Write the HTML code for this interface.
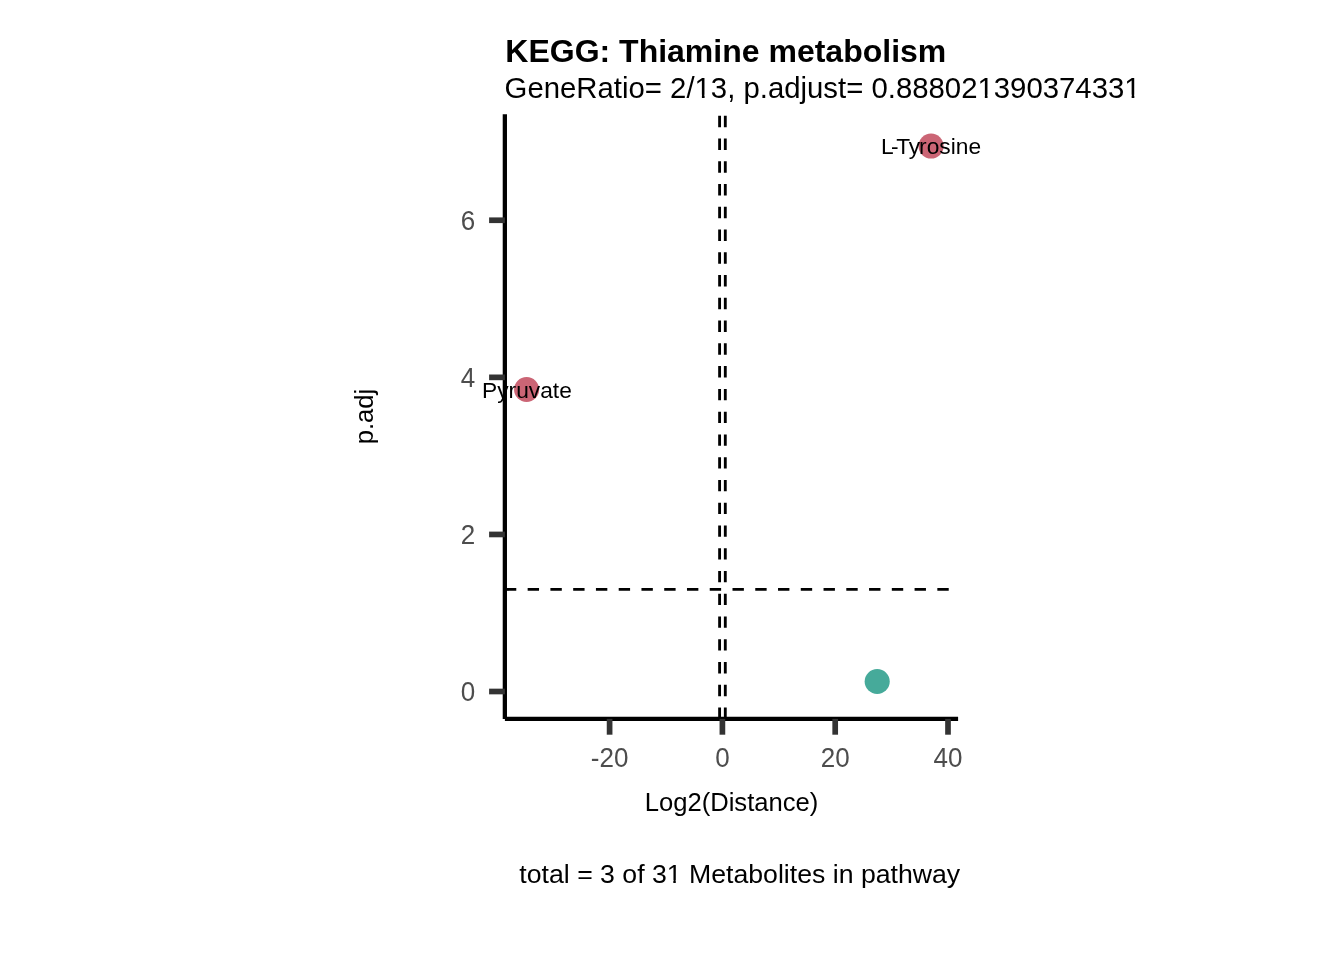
<!DOCTYPE html>
<html>
<head>
<meta charset="utf-8">
<style>
html,body{margin:0;padding:0;background:#fff;}
body{width:1344px;height:960px;overflow:hidden;}
svg{display:block;will-change:transform;}
text{font-family:"Liberation Sans",sans-serif;font-kerning:none;}
</style>
</head>
<body>
<svg width="1344" height="960" viewBox="0 0 1344 960">
<rect x="0" y="0" width="1344" height="960" fill="#fff"/>
<!-- panel contents -->
<g>
  <!-- threshold lines -->
  <line x1="504.9" y1="589.4" x2="958.1" y2="589.4" stroke="#000" stroke-width="2.845" stroke-dasharray="11.38 11.38"/>
  <line x1="719.6" y1="718.9" x2="719.6" y2="114.25" stroke="#000" stroke-width="2.845" stroke-dasharray="11.38 11.38"/>
  <line x1="725.3" y1="718.9" x2="725.3" y2="114.25" stroke="#000" stroke-width="2.845" stroke-dasharray="11.38 11.38"/>
  <!-- points -->
  <circle cx="931.05" cy="146.05" r="12.55" fill="#CB6575"/>
  <circle cx="526.6" cy="389.5" r="12.55" fill="#CB6575"/>
  <circle cx="877.2" cy="681.5" r="12.55" fill="#46AA9A"/>
  <!-- point labels -->
  <text x="880.95 891.05 896.13 908.63 919.11 926.69 939.35 950.73 955.79 968.44" y="154.2" font-size="22.76" fill="#000">L-Tyrosine</text>
  <text x="482.06" y="398.4" font-size="22.76" fill="#000">Pyruvate</text>
</g>
<!-- axes -->
<g>
  <line x1="504.85" y1="114.25" x2="504.85" y2="718.9" stroke="#000" stroke-width="4.27"/>
  <line x1="504.9" y1="718.9" x2="958.1" y2="718.9" stroke="#000" stroke-width="4.27"/>
  <g stroke="#333" stroke-width="5.69">
    <line x1="489.1" y1="220.25" x2="504.9" y2="220.25"/>
    <line x1="489.1" y1="377.35" x2="504.9" y2="377.35"/>
    <line x1="489.1" y1="534.45" x2="504.9" y2="534.45"/>
    <line x1="489.1" y1="691.5" x2="504.9" y2="691.5"/>
    <line x1="609.6" y1="718.9" x2="609.6" y2="734.7"/>
    <line x1="722.4" y1="718.9" x2="722.4" y2="734.7"/>
    <line x1="835.2" y1="718.9" x2="835.2" y2="734.7"/>
    <line x1="948.0" y1="718.9" x2="948.0" y2="734.7"/>
  </g>
  <g fill="#4D4D4D" font-size="26">
    <text transform="translate(475.2,229.55) scale(1,1.04)" text-anchor="end">6</text>
    <text transform="translate(475.2,386.65) scale(1,1.04)" text-anchor="end">4</text>
    <text transform="translate(475.2,543.75) scale(1,1.04)" text-anchor="end">2</text>
    <text transform="translate(475.2,700.80) scale(1,1.04)" text-anchor="end">0</text>
    <text transform="translate(609.6,766.70) scale(1,1.04)" text-anchor="middle">-20</text>
    <text transform="translate(722.4,766.70) scale(1,1.04)" text-anchor="middle">0</text>
    <text transform="translate(835.2,766.70) scale(1,1.04)" text-anchor="middle">20</text>
    <text transform="translate(948.0,766.70) scale(1,1.04)" text-anchor="middle">40</text>
  </g>
</g>
<!-- titles -->
<text x="505.3" y="62.2" font-size="32" font-weight="bold" fill="#000">KEGG: Thiamine metabolism</text>
<text x="504.6" y="98.2" font-size="29.33" fill="#000">GeneRatio= 2/13, p.adjust= 0.888021390374331</text>
<text x="731.5" y="811.4" font-size="25.6" text-anchor="middle" fill="#000">Log2(Distance)</text>
<text transform="translate(373.0,416.6) rotate(-90)" x="0" y="0" font-size="25.6" text-anchor="middle" fill="#000">p.adj</text>
<text x="960.2" y="883.3" font-size="26.67" text-anchor="end" fill="#000">total = 3 of 31 Metabolites in pathway</text>
<!-- remove base serif of "1" (target font has none) -->
<rect x="695.71" y="94.7" width="6.18" height="4.25" fill="#fff"/>
<rect x="704.58" y="94.7" width="5.95" height="4.25" fill="#fff"/>
<rect x="978.65" y="94.7" width="6.18" height="4.25" fill="#fff"/>
<rect x="987.52" y="94.7" width="5.95" height="4.25" fill="#fff"/>
<rect x="1125.46" y="94.7" width="6.18" height="4.25" fill="#fff"/>
<rect x="1134.33" y="94.7" width="5.95" height="4.25" fill="#fff"/>
<rect x="667.61" y="880.0" width="5.70" height="4.05" fill="#fff"/>
<rect x="675.77" y="880.0" width="5.49" height="4.05" fill="#fff"/>
</svg>
</body>
</html>
